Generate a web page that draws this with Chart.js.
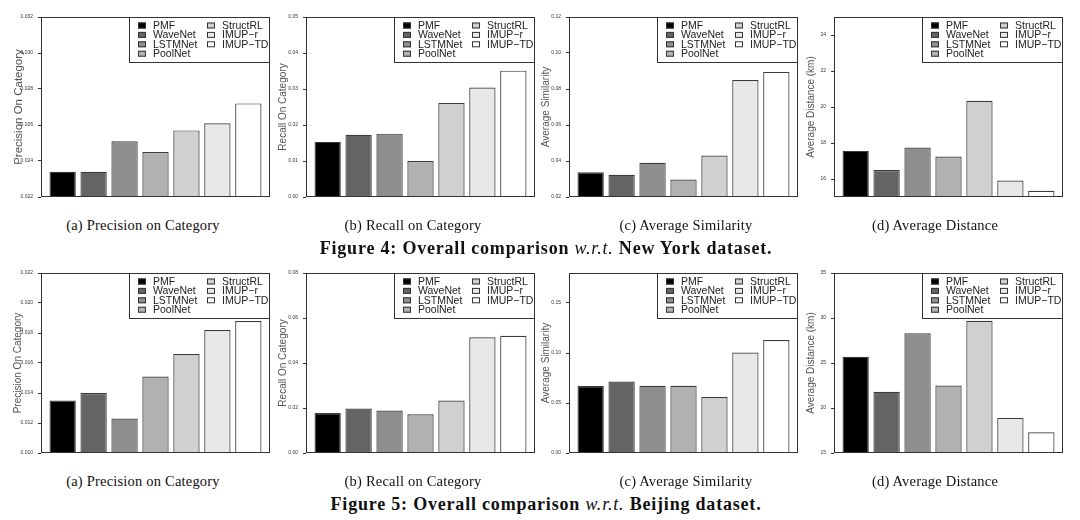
<!DOCTYPE html>
<html>
<head>
<meta charset="utf-8">
<script src="https://cdn.jsdelivr.net/npm/chart.js@4.4.0/dist/chart.umd.min.js"></script>
<style>
  body { margin: 0; background: #fff; }
  #page { position: relative; width: 1080px; height: 520px; overflow: hidden; }
  .panel { position: absolute; }
  .sub { position: absolute; font-family: "Liberation Serif", serif; font-size: 14.5px; letter-spacing: 0.2px; color: #111; transform: translateX(-50%); white-space: nowrap; }
  .fig { position: absolute; left: 546px; font-family: "Liberation Serif", serif; font-size: 18px; letter-spacing: 0.8px; font-weight: bold; color: #111; transform: translateX(-50%); white-space: nowrap; }
  .fig i { font-weight: normal; }
</style>
</head>
<body>
<div id="page"></div>
<script>
// methods, in legend / bar order
const methods = ["PMF", "WaveNet", "LSTMNet", "PoolNet", "StructRL", "IMUP\u2212r", "IMUP\u2212TD"];
const barColors = ["#000000", "#646464", "#8e8e8e", "#b1b1b1", "#d0d0d0", "#e8e8e8", "#ffffff"];

// New York (figure 4)
const nyPrecision = [0.0234, 0.0234, 0.0251, 0.0245, 0.0257, 0.0261, 0.0272];
const nyRecall = [0.0153, 0.0173, 0.0176, 0.0100, 0.0261, 0.0304, 0.0351];
const nySimilarity = [0.0337, 0.0324, 0.0390, 0.0297, 0.0430, 0.0850, 0.0895];
const nyDistance = [17.56, 16.50, 17.75, 17.25, 20.35, 15.92, 15.35];

// Beijing (figure 5)
const bjPrecision = [0.0135, 0.0140, 0.0123, 0.0151, 0.0166, 0.0182, 0.0188];
const bjRecall = [0.0178, 0.0198, 0.0189, 0.0172, 0.0233, 0.0514, 0.0521];
const bjSimilarity = [0.0669, 0.0715, 0.0672, 0.0672, 0.0560, 0.1005, 0.1130];
const bjDistance = [25.7, 21.8, 28.3, 22.5, 29.7, 18.9, 17.3];

// y ranges [min, max] and tick labels
const nyPrecisionRange = [0.022, 0.032];
const nyPrecisionTicks = ["0.022", "0.024", "0.026", "0.028", "0.030", "0.032"];
const nyRecallRange = [0.00, 0.05];
const nyRecallTicks = ["0.00", "0.01", "0.02", "0.03", "0.04", "0.05"];
const nySimilarityRange = [0.02, 0.12];
const nySimilarityTicks = ["0.02", "0.04", "0.06", "0.08", "0.10", "0.12"];
const nyDistanceRange = [15, 25];
const nyDistanceTicks = ["16", "18", "20", "22", "24"];
const bjPrecisionRange = [0.010, 0.022];
const bjPrecisionTicks = ["0.010", "0.012", "0.014", "0.016", "0.018", "0.020", "0.022"];
const bjRecallRange = [0.00, 0.08];
const bjRecallTicks = ["0.00", "0.02", "0.04", "0.06", "0.08"];
const bjSimilarityRange = [0.00, 0.18];
const bjSimilarityTicks = ["0.00", "0.05", "0.10", "0.15"];
const bjDistanceRange = [15, 35];
const bjDistanceTicks = ["15", "20", "25", "30", "35"];

const yTitles = ["Precision On Category", "Recall On Category", "Average Similarity", "Average Distance (km)"];
const subCaptions = ["(a)  Precision on Category", "(b)  Recall on Category", "(c)  Average Similarity", "(d)  Average Distance"];

const page = document.getElementById("page");
const colLeft = [41, 306, 569, 834];
const rowTop = [17, 273];
const frameW = 229, frameH = 182;
const padL = 41, padT = 17, padR = 4, padB = 6;

const framePlugin = {
  id: "frame",
  afterDraw(chart) {
    const { ctx, chartArea: a } = chart;
    ctx.save();
    ctx.strokeStyle = "#333";
    ctx.lineWidth = 1;
    ctx.strokeRect(a.left + 0.5, a.top + 0.5, a.right - a.left - 1, a.bottom - a.top - 1);

    // two-column legend, top right
    const lw = 141, lh = 46;
    const lx = a.right - lw, ly = a.top;
    ctx.fillStyle = "#fff";
    ctx.fillRect(lx + 0.5, ly + 0.5, lw - 1, lh - 1);
    ctx.strokeRect(lx + 0.5, ly + 0.5, lw - 1, lh - 1);
    ctx.font = "10.5px 'Liberation Sans', Arial, sans-serif";
    ctx.textBaseline = "middle";
    methods.forEach((m, i) => {
      const col = i < 4 ? 0 : 1;
      const row = i < 4 ? i : i - 4;
      const sx = lx + (col ? 78 : 9);
      const sy = ly + 8.5 + row * 9.4;
      ctx.fillStyle = barColors[i];
      ctx.fillRect(sx, sy - 3, 8, 6);
      ctx.strokeStyle = "#333";
      ctx.strokeRect(sx + 0.5, sy - 2.5, 7, 5);
      ctx.fillStyle = "#222";
      ctx.fillText(m, sx + 15, sy + 0.5);
    });
    ctx.restore();
  }
};

function makePanel(row, col, values, range, tickLabels) {
  const div = document.createElement("div");
  div.className = "panel";
  div.style.left = (colLeft[col] - padL) + "px";
  div.style.top = (rowTop[row] - padT) + "px";
  const canvas = document.createElement("canvas");
  canvas.width = padL + frameW + padR;
  canvas.height = padT + frameH + padB;
  canvas.style.width = canvas.width + "px";
  canvas.style.height = canvas.height + "px";
  div.appendChild(canvas);
  page.appendChild(div);

  const titleSize = row === 0 && col === 0 ? 11.5 : 10;
  new Chart(canvas, {
    type: "bar",
    data: {
      datasets: [{
        data: values.map((v, i) => ({ x: i, y: v })),
        backgroundColor: barColors,
        borderColor: "#3a3a3a",
        borderWidth: 1.2,
        barPercentage: 0.85,
        categoryPercentage: 1
      }]
    },
    options: {
      responsive: false,
      animation: false,
      layout: { padding: { top: padT, right: padR, bottom: padB, left: 0 } },
      plugins: { legend: { display: false }, tooltip: { enabled: false } },
      scales: {
        x: { type: "linear", min: -0.7, max: 6.7, offset: false, display: false },
        y: {
          min: range[0], max: range[1],
          border: { display: false },
          grid: { drawOnChartArea: false, tickLength: 3, color: "#333" },
          ticks: {
            color: "#333", padding: 5,
            font: { size: 5, family: "'Liberation Sans', Arial, sans-serif" },
            callback: (v, i) => tickLabels[i]
          },
          afterBuildTicks(s) { s.ticks = tickLabels.map(t => ({ value: Number(t) })); },
          title: {
            display: true, text: yTitles[col], color: "#555",
            font: { size: titleSize, family: "'Liberation Sans', Arial, sans-serif" },
            padding: { top: 12, bottom: 0 }
          },
          afterFit(s) { s.width = padL; }
        }
      }
    },
    plugins: [framePlugin]
  });
}

const rows = [
  [nyPrecision, nyRecall, nySimilarity, nyDistance],
  [bjPrecision, bjRecall, bjSimilarity, bjDistance]
];
const ranges = [
  [nyPrecisionRange, nyRecallRange, nySimilarityRange, nyDistanceRange],
  [bjPrecisionRange, bjRecallRange, bjSimilarityRange, bjDistanceRange]
];
const ticks = [
  [nyPrecisionTicks, nyRecallTicks, nySimilarityTicks, nyDistanceTicks],
  [bjPrecisionTicks, bjRecallTicks, bjSimilarityTicks, bjDistanceTicks]
];
rows.forEach((r, ri) => r.forEach((vals, ci) => makePanel(ri, ci, vals, ranges[ri][ci], ticks[ri][ci])));

// captions
const subX = [143, 413, 686, 935];
const subY = [217, 473];
const figY = [238, 494];
const figText = [
  "Figure 4: Overall comparison <i>w.r.t.</i> New York dataset.",
  "Figure 5: Overall comparison <i>w.r.t.</i> Beijing dataset."
];
[0, 1].forEach(ri => {
  subCaptions.forEach((t, ci) => {
    const d = document.createElement("div");
    d.className = "sub";
    d.style.left = subX[ci] + "px";
    d.style.top = subY[ri] + "px";
    d.textContent = t;
    page.appendChild(d);
  });
  const f = document.createElement("div");
  f.className = "fig";
  f.style.top = figY[ri] + "px";
  f.innerHTML = figText[ri];
  page.appendChild(f);
});
</script>
</body>
</html>
